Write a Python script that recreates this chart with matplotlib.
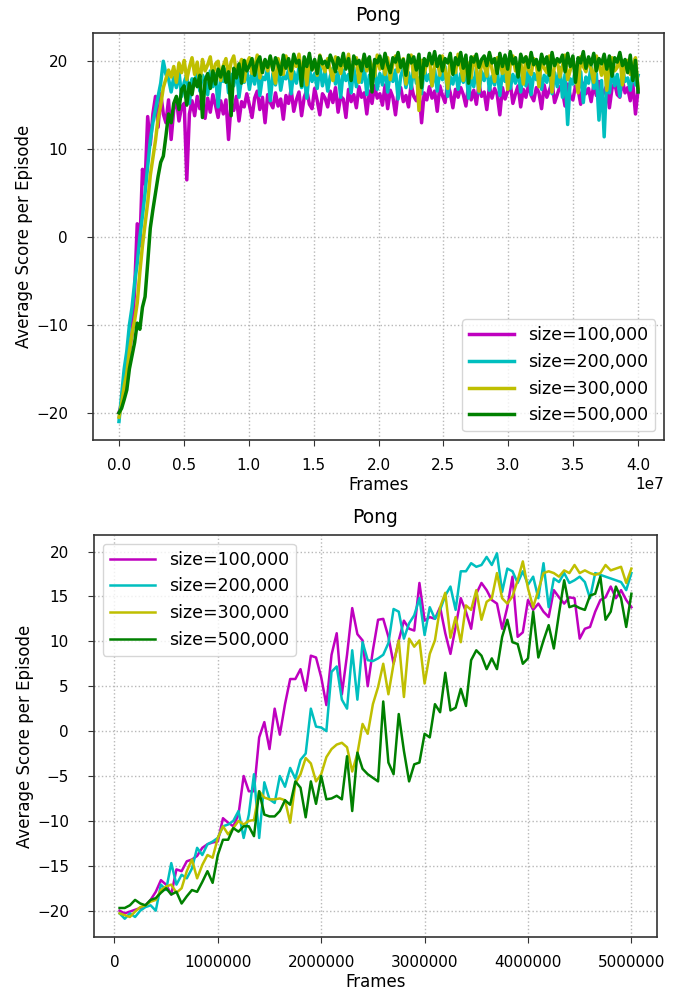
import numpy as np
import matplotlib
matplotlib.use("Agg")
import matplotlib.pyplot as plt

labels = ["size=100,000", "size=200,000", "size=300,000", "size=500,000"]
colors = ["m", "c", "y", "g"]

# ---- top panel: 40M frames, one value every ~200k frames ----
top_m = [
    -20.0, -19.0, -18.0, -15.5, -13.0, -11.0, -6.0, 1.5, -1.0, 7.7, 6.0, 13.7, 10.5, 14.0, 16.0, 12.5, 16.3, 14.0, 13.0, 15.6,
    11.1, 14.5, 15.8, 13.2, 14.8, 15.2, 6.5, 14.0, 15.5, 13.8, 16.0, 14.6, 15.2, 13.5, 15.8, 14.2, 16.2, 15.0, 13.6, 15.5,
    14.0, 15.6, 11.1, 15.2, 14.4, 16.0, 13.2, 15.4, 14.8, 16.3, 15.0, 13.6, 15.8, 16.6, 14.5, 15.9, 13.0, 16.2, 15.3, 14.7,
    16.4, 14.9, 15.7, 13.4, 16.1, 15.2, 16.8, 14.3, 15.6, 16.5, 13.8, 15.9, 16.7, 15.1, 14.6, 16.9, 15.5, 13.9, 16.3, 15.8,
    14.8, 16.6, 15.3, 17.0, 14.2, 16.0, 15.7, 13.6, 16.8, 15.4, 16.2, 14.7, 17.1, 15.9, 16.4, 14.0, 16.6, 15.2, 17.2, 15.8,
    16.3, 15.0, 17.3, 14.6, 16.7, 15.9, 13.9, 16.5, 17.0, 15.4, 16.1, 14.8, 17.4, 16.0, 15.5, 16.9, 13.0, 16.4, 15.6, 17.1,
    15.8, 16.6, 14.3, 17.2, 16.1, 15.3, 17.5, 16.4, 14.7, 16.8, 15.9, 17.0, 16.2, 14.9, 17.3, 15.6, 16.7, 15.1, 17.4, 16.0,
    16.5, 14.5, 17.1, 15.8, 16.9, 16.2, 13.9, 17.0, 15.7, 16.6, 17.5, 15.2, 16.3, 17.2, 14.8, 16.8, 15.9, 17.4, 16.1, 15.5,
    17.0, 16.4, 14.6, 17.3, 15.9, 16.7, 17.6, 15.3, 16.2, 17.1, 16.6, 14.9, 17.4, 16.0, 15.6, 17.2, 16.8, 15.1, 17.5, 16.3,
    16.9, 15.4, 17.3, 16.1, 17.7, 15.8, 16.6, 17.2, 14.7, 16.9, 17.5, 16.2, 15.9, 17.8, 16.4, 17.0, 15.5, 17.4, 14.0, 16.8,
]
top_c = [
    -21.0, -18.0, -15.0, -13.0, -10.0, -8.0, -5.2, -3.0, 0.0, 2.4, 5.0, 8.0, 11.0, 13.0, 14.5, 16.0, 17.5, 20.0, 18.5, 18.0,
    16.5, 18.2, 17.0, 18.8, 16.0, 17.6, 18.5, 15.2, 18.0, 17.3, 19.0, 16.6, 18.4, 17.8, 16.2, 18.9, 17.1, 18.6, 14.8, 18.3,
    17.7, 19.1, 16.4, 18.5, 17.2, 19.3, 15.9, 18.1, 17.6, 19.0, 16.8, 18.7, 17.4, 19.4, 16.1, 18.2, 17.9, 19.2, 15.5, 18.6,
    17.3, 19.5, 16.7, 18.4, 18.0, 19.0, 16.3, 18.8, 17.5, 19.3, 17.0, 18.2, 15.8, 19.1, 17.7, 18.6, 16.9, 19.4, 17.2, 18.9,
    16.6, 18.3, 19.2, 17.4, 18.7, 15.9, 19.0, 17.8, 18.5, 16.4, 19.3, 17.1, 18.9, 17.6, 19.5, 16.2, 18.4, 17.9, 19.1, 16.8,
    18.6, 17.3, 19.4, 16.5, 18.8, 17.7, 19.0, 15.7, 18.3, 19.2, 17.0, 18.7, 16.9, 19.5, 17.5, 18.1, 16.3, 19.3, 17.8, 18.5,
    17.2, 19.1, 16.6, 18.9, 17.9, 19.4, 16.0, 18.2, 17.4, 19.0, 16.8, 18.6, 17.6, 19.3, 15.8, 18.4, 17.1, 19.2, 16.4, 18.8,
    17.8, 19.5, 16.7, 18.3, 17.3, 19.1, 16.1, 18.7, 17.7, 19.4, 16.9, 18.5, 17.5, 19.0, 16.5, 18.9, 17.2, 19.3, 16.2, 18.6,
    17.9, 19.2, 16.8, 18.4, 17.6, 19.0, 16.3, 18.7, 17.1, 19.3, 15.9, 18.5, 12.8, 18.0, 17.4, 19.1, 16.6, 18.8, 15.3, 18.2,
    17.5, 19.4, 16.9, 18.6, 13.3, 17.8, 11.4, 18.3, 16.4, 19.0, 17.2, 18.5, 16.0, 19.2, 17.7, 18.1, 16.7, 18.9, 17.3, 18.4,
]
top_y = [
    -20.5, -19.0, -17.0, -15.5, -13.0, -11.0, -9.5, -7.5, -4.0, -1.0, 1.5, 3.9, 7.0, 9.0, 11.0, 13.5, 15.0, 17.0, 18.0, 19.0,
    18.2, 19.4, 17.6, 19.8, 18.7, 20.1, 17.9, 19.3, 20.4, 18.5, 19.9, 17.4, 20.2, 18.9, 19.6, 20.5, 18.3, 19.7, 20.0, 17.8,
    19.5, 20.3, 18.4, 19.9, 20.6, 18.8, 19.4, 20.2, 17.7, 19.8, 20.4, 18.6, 19.3, 20.7, 18.1, 19.6, 20.1, 18.9, 20.5, 19.0,
    17.5, 20.3, 19.2, 18.5, 20.6, 19.7, 18.0, 20.2, 19.4, 20.8, 18.7, 19.9, 17.3, 20.4, 19.1, 20.0, 18.4, 20.7, 19.5, 18.8,
    20.3, 19.0, 17.8, 20.5, 19.6, 18.6, 20.1, 19.3, 20.8, 18.2, 19.8, 20.4, 17.6, 19.5, 20.6, 18.9, 20.2, 19.4, 18.3, 20.7,
    19.1, 20.0, 18.5, 20.4, 17.9, 19.7, 20.6, 18.8, 19.5, 20.3, 17.4, 19.9, 20.7, 18.2, 19.3, 14.4, 20.1, 18.6, 19.8, 20.5,
    17.2, 19.6, 20.2, 18.4, 20.6, 19.0, 16.9, 20.3, 19.4, 18.7, 20.8, 19.2, 17.8, 20.0, 19.7, 18.1, 20.5, 19.3, 16.6, 20.1,
    19.5, 18.3, 20.7, 19.1, 17.7, 20.4, 19.8, 18.6, 20.2, 16.8, 19.6, 20.6, 18.9, 19.3, 20.0, 17.4, 20.5, 19.0, 18.5, 20.3,
    19.7, 17.1, 20.4, 19.2, 18.7, 20.6, 16.5, 19.9, 20.1, 18.2, 19.5, 20.7, 17.9, 19.0, 20.3, 18.6, 16.4, 20.5, 19.4, 18.8,
    20.2, 19.1, 17.6, 20.6, 19.6, 18.4, 20.0, 16.7, 19.8, 20.4, 18.9, 19.3, 20.7, 17.3, 19.9, 20.1, 18.5, 19.5, 20.4, 16.9,
]
top_g = [
    -20.0, -19.5, -18.5, -17.4, -15.0, -13.5, -12.0, -9.8, -10.5, -8.0, -6.8, -3.0, 1.0, 3.1, 5.0, 6.9, 8.5, 9.2, 11.5, 14.0,
    13.0, 15.2, 16.0, 14.5, 16.8, 17.2, 15.0, 17.5, 16.2, 18.0, 17.1, 18.4, 13.6, 17.8, 18.6, 16.9, 18.9, 17.4, 19.1, 18.2,
    19.4, 17.6, 18.8, 13.8, 19.2, 18.1, 19.7, 17.5, 20.1, 18.9, 19.5, 20.3, 18.4, 19.9, 20.5, 18.7, 20.2, 19.3, 20.6, 19.0,
    20.4, 19.6, 18.5, 20.7, 19.2, 20.3, 18.9, 20.8, 19.8, 20.1, 17.2, 20.5, 19.4, 20.9, 19.0, 20.2, 18.6, 20.6, 19.7, 20.0,
    19.3, 20.7, 19.9, 18.8, 20.4, 19.5, 20.9, 19.1, 20.3, 17.8, 20.6, 19.7, 20.1, 18.9, 20.8, 19.4, 20.5, 16.5, 20.2, 19.8,
    20.6, 19.2, 20.9, 19.6, 18.7, 20.4, 19.9, 21.0, 19.3, 20.2, 18.4, 20.7, 19.8, 20.5, 19.0, 20.8, 17.0, 20.3, 19.5, 20.9,
    19.7, 21.1, 19.4, 20.6, 18.9, 20.3, 19.8, 20.9, 18.5, 20.4, 19.6, 21.0, 19.2, 20.7, 17.5, 20.5, 19.9, 20.8, 19.3, 20.2,
    20.6, 19.5, 21.0, 19.8, 20.3, 18.6, 20.9, 19.4, 20.7, 19.1, 21.1, 19.7, 20.4, 18.2, 20.8, 19.9, 20.5, 19.3, 21.0, 19.6,
    20.2, 19.0, 20.8, 19.7, 20.5, 18.4, 21.0, 19.5, 20.3, 19.9, 20.7, 18.8, 20.9, 19.4, 20.6, 17.6, 20.4, 19.8, 21.1, 19.2,
    20.5, 19.6, 20.9, 18.9, 20.3, 19.7, 20.8, 19.1, 20.6, 18.3, 20.4, 19.9, 21.0, 19.5, 20.2, 18.7, 20.7, 17.8, 20.1, 16.5,
]

# ---- bottom panel: first 5M frames, one value every 50k frames ----
bot_m = [
    -20.0, -20.3, -20.1, -19.9, -19.7, -19.4, -18.8, -17.9, -16.6, -17.1,
    -18.2, -15.4, -15.6, -14.5, -14.3, -13.9, -13.0, -12.6, -12.4, -12.3,
    -9.7, -10.2, -10.6, -9.3, -5.0, -6.7, -6.7, -0.7, 1.0, -2.0,
    2.5, -0.4, 3.0, 5.8, 5.8, 6.9, 4.5, 8.4, 8.2, 6.0,
    2.9, 8.5, 10.9, 4.1, 8.5, 13.7, 10.8, 10.1, 5.0, 9.0,
    12.4, 12.5, 10.5, 7.5, 10.1, 12.3, 11.4, 11.2, 16.5, 12.3,
    12.7, 12.5, 13.8, 10.9, 8.6, 11.6, 14.8, 13.3, 11.4, 15.3,
    16.5, 15.7, 14.6, 14.2, 11.4, 13.8, 17.2, 10.5, 11.0, 14.6,
    13.5, 14.2, 13.3, 12.7, 15.7, 14.9, 14.2, 14.9, 14.8, 10.3,
    11.4, 11.6, 13.3, 14.6, 14.9, 16.1, 14.8, 15.7, 14.6, 13.8,
]
bot_c = [
    -20.3, -20.9, -20.3, -20.7, -20.0, -19.6, -19.4, -20.0, -17.1, -17.7,
    -14.7, -17.1, -16.0, -16.4, -15.3, -13.0, -13.8, -12.6, -12.3, -11.9,
    -10.6, -10.4, -10.0, -8.9, -11.9, -9.3, -4.8, -11.9, -5.7, -7.6,
    -8.0, -5.0, -6.2, -4.1, -5.3, -3.2, -2.5, 2.5, 0.5, 0.4,
    0.0, 6.6, 7.2, 3.5, 2.5, 9.0, 3.5, 9.9, 7.9, 7.8,
    8.1, 8.5, 9.8, 13.6, 13.3, 10.3, 12.0, 12.9, 14.8, 10.7,
    13.8, 12.5, 13.5, 15.1, 16.1, 13.5, 17.8, 17.8, 18.7, 18.3,
    18.5, 19.4, 18.5, 19.8, 15.5, 18.1, 17.8, 16.5, 17.8, 16.3,
    17.2, 14.8, 18.7, 13.8, 17.0, 16.6, 17.6, 16.5, 16.8, 17.2,
    16.6, 14.8, 17.6, 17.4, 17.2, 17.0, 16.8, 16.6, 15.7, 17.6,
]
bot_y = [
    -20.3, -20.5, -20.7, -20.1, -19.6, -19.4, -19.0, -18.8, -17.7, -17.3,
    -17.1, -18.0, -17.5, -15.6, -14.3, -16.4, -14.9, -13.8, -14.1, -11.9,
    -10.6, -11.5, -10.8, -10.0, -10.4, -10.0, -9.9, -6.7, -7.4, -7.6,
    -7.6, -7.5, -7.7, -10.2, -5.8, -4.8, -3.0, -3.6, -5.6, -4.8,
    -2.9, -2.0, -1.5, -1.3, -1.8, -4.5, -2.5, 0.8, -0.3, 3.0,
    4.9, 7.5, 4.1, 7.5, 10.1, 3.8, 10.3, 9.4, 10.1, 5.3,
    8.6, 10.1, 13.8, 15.4, 10.4, 12.7, 9.9, 14.0, 13.5, 15.7,
    12.4, 14.4, 14.8, 17.6, 14.8, 14.2, 15.0, 16.8, 18.9, 15.9,
    13.8, 15.7, 17.6, 17.8, 17.6, 17.2, 17.9, 17.6, 18.5, 17.6,
    17.9, 17.6, 17.4, 17.6, 18.5, 17.9, 18.1, 18.3, 16.5, 18.1,
]
bot_g = [
    -19.7, -19.7, -19.4, -18.8, -19.2, -19.4, -18.8, -18.6, -18.0, -17.5,
    -18.2, -17.9, -19.2, -18.4, -17.7, -17.9, -16.8, -15.6, -16.9, -13.8,
    -12.1, -12.1, -10.8, -11.2, -10.6, -10.6, -11.7, -6.7, -9.3, -9.5,
    -9.5, -8.9, -7.7, -8.2, -5.6, -6.3, -9.6, -5.6, -8.1, -5.0,
    -7.6, -7.5, -7.2, -7.6, -2.8, -8.9, -2.4, -4.2, -4.8, -5.2,
    -5.6, 3.3, -3.5, -4.8, 1.9, -2.2, -5.6, -3.7, -3.5, -0.3,
    -0.7, 3.0, 2.1, 6.5, 2.3, 2.6, 4.7, 2.8, 7.9, 9.0,
    8.4, 6.9, 8.1, 6.9, 10.5, 12.4, 9.9, 9.7, 7.5, 8.1,
    13.3, 8.2, 10.1, 11.8, 9.2, 13.1, 16.8, 13.8, 14.0, 13.7,
    13.5, 15.1, 15.3, 17.2, 12.4, 13.3, 16.1, 14.8, 11.6, 15.3,
]

frames_top = np.linspace(0, 4.0e7, len(top_m))
frames_bot = np.arange(1, len(bot_m) + 1) * 50000

fig = plt.figure(figsize=(6.86, 9.96), dpi=100)
ax1 = fig.add_axes([0.1356, 0.5582, 0.8324, 0.4086])
ax2 = fig.add_axes([0.137, 0.0592, 0.8207, 0.4036])

for ys, c, lab in zip([top_m, top_c, top_y, top_g], colors, labels):
    ax1.plot(frames_top, ys, color=c, lw=2.5, label=lab)
for ys, c, lab in zip([bot_m, bot_c, bot_y, bot_g], colors, labels):
    ax2.plot(frames_bot, ys, color=c, lw=1.8, label=lab)

ax1.set_yticks([-20, -10, 0, 10, 20])
ax2.set_yticks([-20, -15, -10, -5, 0, 5, 10, 15, 20])
ax2.ticklabel_format(axis="x", style="plain")

for ax in (ax1, ax2):
    ax.set_title("Pong", fontsize=13.5, pad=9)
    ax.set_xlabel("Frames", fontsize=12, labelpad=2)
    ax.set_ylabel("Average Score per Episode", fontsize=12, labelpad=2)
    ax.tick_params(labelsize=11, length=4, color="#333333")
    ax.tick_params(axis="y", pad=14)
    ax.tick_params(axis="x", pad=9)
    ax.grid(True, linestyle=":", color="#b8b8b8", lw=1)
    for sp in ax.spines.values():
        sp.set_color("#333333")
        sp.set_linewidth(1.2)
ax1.xaxis.get_offset_text().set_fontsize(11)

ax1.legend(loc="lower right", fontsize=12.5, handlelength=2.6)
ax2.legend(loc="upper left", fontsize=12.5, handlelength=2.6)

fig.savefig("out.png", dpi=100)
